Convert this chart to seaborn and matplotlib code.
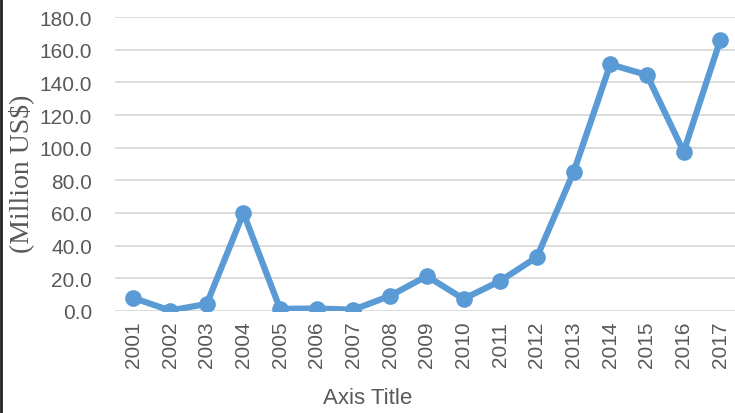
import numpy as np
import pandas as pd
import seaborn as sns
import matplotlib
matplotlib.use("Agg")
import matplotlib.pyplot as plt
from matplotlib.lines import Line2D

# values
years = ["2001", "2002", "2003", "2004", "2005", "2006", "2007", "2008", "2009",
         "2010", "2011", "2012", "2013", "2014", "2015", "2016", "2017"]
million_usd = [8.0, 0.3, 4.3, 60.0, 1.3, 1.5, 0.8, 9.3, 21.4,
               7.4, 18.4, 33.0, 85.0, 151.0, 144.5, 97.5, 166.0]
y_ticks = [0, 20, 40, 60, 80, 100, 120, 140, 160, 180]

df = pd.DataFrame({"year": years, "value": million_usd})

sns.set_theme(style="white")
plt.rcParams['font.family'] = ['Liberation Sans', 'DejaVu Sans']

fig = plt.figure(figsize=(7.35, 4.14), dpi=100, facecolor='white')
ax = fig.add_axes([115 / 735, 1 - 312 / 414, 620 / 735, 294 / 414])

x = np.arange(len(years))
for t in y_ticks:
    ax.axhline(t, color='#d9d9d9', lw=1.3, zorder=0)

sns.lineplot(x=x, y=df["value"], ax=ax, color='#5b9bd5', lw=4.5,
             marker='o', markersize=12, markeredgewidth=0, zorder=3)

ax.set_xlim(-0.5, 16.4)
ax.set_ylim(0, 180)
ax.set_yticks(y_ticks)
ax.set_yticklabels([f"{t:.1f}" for t in y_ticks], fontsize=15, color='#595959')
ax.set_xticks(x)
ax.set_xticklabels(years, rotation=90, fontsize=15, color='#595959')
ax.tick_params(axis='x', length=0, pad=7)
ax.tick_params(axis='y', length=0, pad=16.5)
ax.set_xlabel('')
ax.set_ylabel('')
for s in ax.spines.values():
    s.set_visible(False)

fig.text(368 / 735, 1 - 399 / 414, "Axis Title", fontsize=16, color='#595959',
         ha='center', va='center')
fig.text(21 / 735, 1 - 174 / 414, "(Million US$)", fontsize=20, rotation=90,
         family=['Liberation Serif', 'DejaVu Serif'], color='#595959',
         ha='center', va='center')

# left border of the exported chart
fig.add_artist(Line2D([0.002, 0.002], [0, 1], color='#222222', lw=2, transform=fig.transFigure))

fig.savefig("out.png", dpi=100, facecolor='white')
